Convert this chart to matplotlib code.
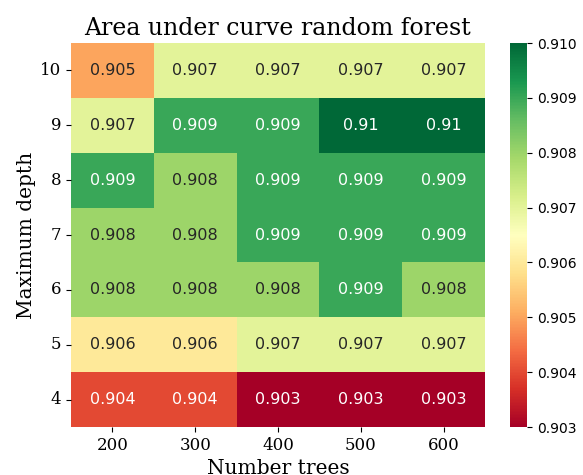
import numpy as np
import matplotlib
matplotlib.use("Agg")
import matplotlib.pyplot as plt
import seaborn as sns

# grid search result: AUC by max depth (rows) and number of trees (cols)
n_trees = [200, 300, 400, 500, 600]
max_depth = [10, 9, 8, 7, 6, 5, 4]
auc = [
    [0.905, 0.907, 0.907, 0.907, 0.907],
    [0.907, 0.909, 0.909, 0.910, 0.910],
    [0.909, 0.908, 0.909, 0.909, 0.909],
    [0.908, 0.908, 0.909, 0.909, 0.909],
    [0.908, 0.908, 0.908, 0.909, 0.908],
    [0.906, 0.906, 0.907, 0.907, 0.907],
    [0.904, 0.904, 0.903, 0.903, 0.903],
]

fig = plt.figure(figsize=(5.83, 4.75), dpi=100)
ax = fig.add_axes([0.1218, 0.101, 0.710, 0.8084])
cax = fig.add_axes([0.875, 0.101, 0.029, 0.8084])

sns.heatmap(np.array(auc), annot=True, fmt=".3g", cmap="RdYlGn",
            vmin=0.903, vmax=0.910, xticklabels=n_trees, yticklabels=max_depth,
            ax=ax, cbar_ax=cax, annot_kws={"fontsize": 11.5})

ax.set_title("Area under curve random forest", family="serif", fontsize=17)
ax.set_xlabel("Number trees", family="serif", fontsize=14.5)
ax.set_ylabel("Maximum depth", family="serif", fontsize=14.5, labelpad=3)
ax.tick_params(labelsize=12)
for lbl in ax.get_xticklabels() + ax.get_yticklabels():
    lbl.set_family("serif")
ax.set_yticklabels(max_depth, rotation=0)
cax.set_yticks([0.903, 0.904, 0.905, 0.906, 0.907, 0.908, 0.909, 0.910])
cax.set_yticklabels(["0.903", "0.904", "0.905", "0.906", "0.907", "0.908", "0.909", "0.910"])
cax.tick_params(labelsize=10)

fig.savefig("out.png", dpi=100)
